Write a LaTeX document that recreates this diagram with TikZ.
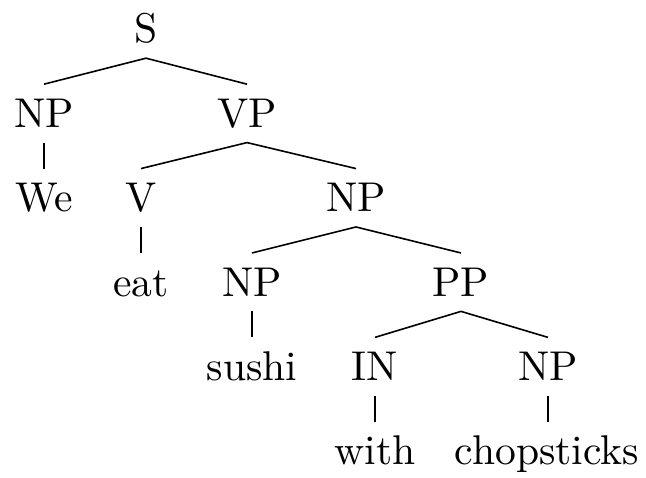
\documentclass[tikz,border=0pt]{standalone}
\begin{document}
\begin{tikzpicture}[x=0.25pt,y=-0.25pt,
  lbl/.style={anchor=base,inner xsep=0pt,inner ysep=3.6pt,
    text height=7pt,text depth=0pt,
    font=\fontsize{10.4pt}{12.5pt}\selectfont},
  branch/.style={line width=0.4pt,black}]
\useasboundingbox (0,0) rectangle (646,478);
% level baselines
\def\ya{43}\def\yb{127.4}\def\yc{211.8}\def\yd{296.2}\def\ye{380.6}\def\yf{465}
\node[lbl] (s)    at (146,\ya) {S};
\node[lbl] (np1)  at (44,\yb)  {NP};
\node[lbl] (vp)   at (247,\yb) {VP};
\node[lbl] (we)   at (44,\yc)  {We};
\node[lbl] (v)    at (141,\yc) {V};
\node[lbl] (np2)  at (356,\yc) {NP};
\node[lbl] (eat)  at (141,\yd) {eat};
\node[lbl] (np3)  at (252,\yd) {NP};
\node[lbl] (pp)   at (461,\yd) {PP};
\node[lbl] (sushi) at (252,\ye) {sushi};
\node[lbl] (in)   at (375,\ye) {IN};
\node[lbl] (np4)  at (548,\ye) {NP};
\node[lbl] (with) at (375,\yf) {with};
\node[lbl] (chop) at (547,\yf) {chopsticks};
% branches
\draw[branch] (np1.north) -- (s.south) -- (vp.north);
\draw[branch] (np1.south) -- (we.north);
\draw[branch] (v.north) -- (vp.south) -- (np2.north);
\draw[branch] (v.south) -- (eat.north);
\draw[branch] (np3.north) -- (np2.south) -- (pp.north);
\draw[branch] (np3.south) -- (sushi.north);
\draw[branch] (in.north) -- (pp.south) -- (np4.north);
\draw[branch] (in.south) -- (with.north);
\draw[branch] (np4.south) -- (chop.north -| np4.south);
\end{tikzpicture}
\end{document}
